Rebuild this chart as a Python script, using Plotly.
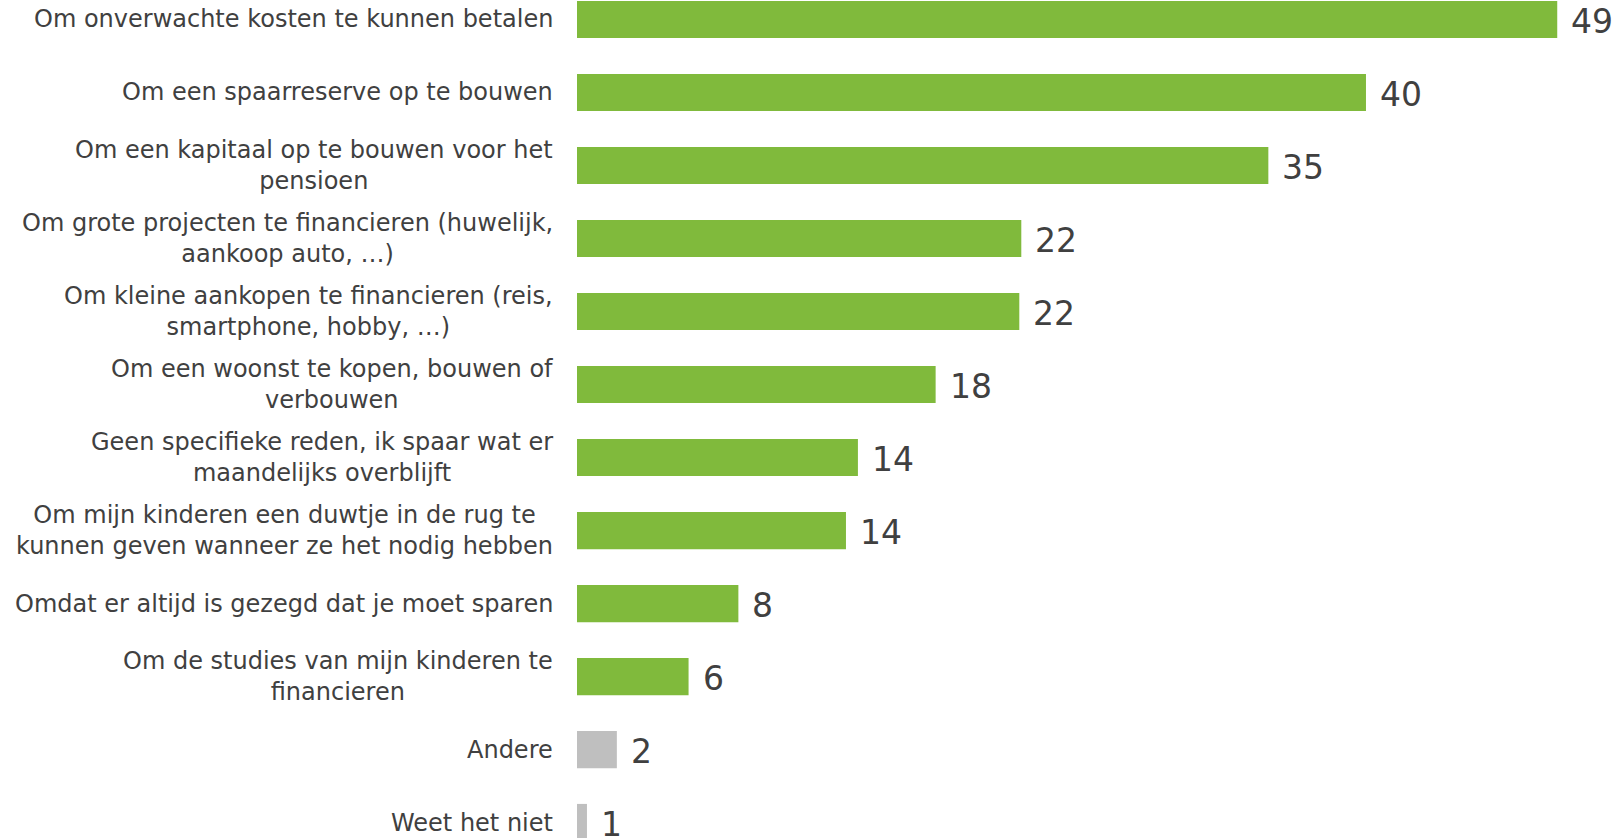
import plotly.graph_objects as go

categories = [
    "Om onverwachte kosten te kunnen betalen",
    "Om een spaarreserve op te bouwen",
    "Om een kapitaal op te bouwen voor het<br>pensioen",
    "Om grote projecten te financieren (huwelijk,<br>aankoop auto, …)",
    "Om kleine aankopen te financieren (reis,<br>smartphone, hobby, …)",
    "Om een woonst te kopen, bouwen of<br>verbouwen",
    "Geen specifieke reden, ik spaar wat er<br>maandelijks overblijft",
    "Om mijn kinderen een duwtje in de rug te<br>kunnen geven wanneer ze het nodig hebben",
    "Omdat er altijd is gezegd dat je moet sparen",
    "Om de studies van mijn kinderen te<br>financieren",
    "Andere",
    "Weet het niet",
]
values = [49.2, 39.6, 34.7, 22.3, 22.2, 18.0, 14.1, 13.5, 8.1, 5.6, 2.0, 0.5]
value_labels = ["49", "40", "35", "22", "22", "18", "14", "14", "8", "6", "2", "1"]
bar_colors = ["#80BA3C"] * 10 + ["#BFBFBF"] * 2

ids = list(range(len(categories)))
TEXT = "#404040"
FONT = "DejaVu Sans"

fig = go.Figure(
    go.Bar(
        x=values,
        y=ids,
        orientation="h",
        width=0.51,
        marker=dict(color=bar_colors, line=dict(width=0)),
        hoverinfo="skip",
    )
)

annotations = []
for i, (cat, v, lab) in enumerate(zip(categories, values, value_labels)):
    annotations.append(dict(
        x=0, xref="paper", y=i, yref="y", text=cat, showarrow=False,
        xanchor="right", yanchor="middle", align="center", xshift=-22,
        font=dict(family=FONT, size=24, color=TEXT),
    ))
    annotations.append(dict(
        x=v, xref="x", y=i, yref="y", text=lab, showarrow=False,
        xanchor="left", yanchor="middle", xshift=12, yshift=-2,
        font=dict(family=FONT, size=33, color=TEXT),
    ))

fig.update_layout(
    width=1621, height=838,
    margin=dict(l=577, r=0, t=0, b=0),
    paper_bgcolor="white", plot_bgcolor="white",
    showlegend=False,
    annotations=annotations,
    xaxis=dict(range=[0, 52.4], visible=False, fixedrange=True),
    yaxis=dict(range=[11.212, -0.267], visible=False, fixedrange=True),
)

fig.write_html(
    "out.html",
    config={"displayModeBar": False, "staticPlot": True},
    post_script="document.body.style.margin='0';document.body.style.overflow='hidden';",
)
